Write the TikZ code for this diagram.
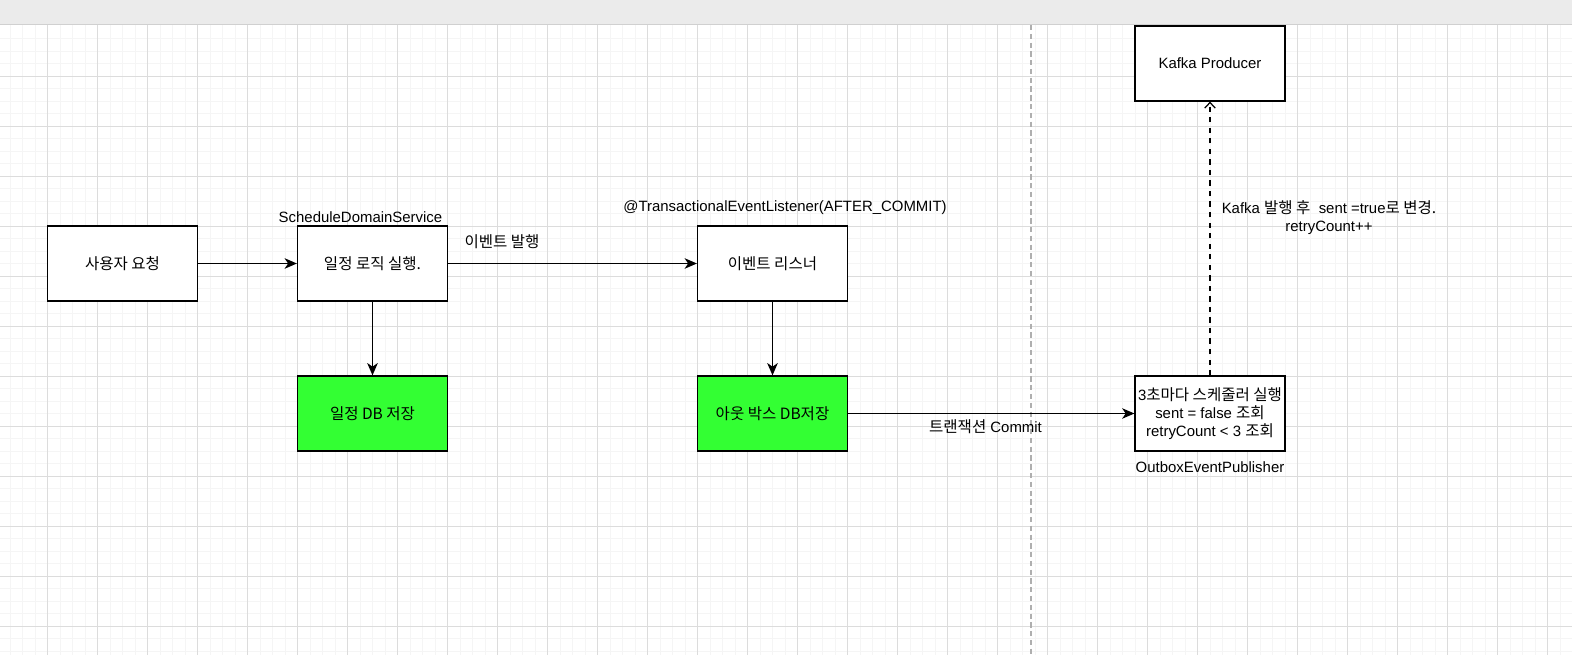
\documentclass[tikz,border=0pt]{standalone}
\usepackage{fontspec}
\setmainfont{Liberation Sans}
\newfontfamily\krfont{Noto Sans CJK KR}[Scale=1.04]
\usetikzlibrary{arrows.meta,positioning}
\definecolor{gridmajor}{RGB}{220,220,220}
\definecolor{gridminor}{RGB}{245,245,245}
\definecolor{barfill}{RGB}{235,235,235}
\definecolor{barline}{RGB}{208,208,208}
\definecolor{dbgreen}{RGB}{51,255,51}
\definecolor{splitgray}{RGB}{175,175,175}
\newcommand{\kr}[1]{{\krfont #1}}

\begin{document}
\begin{tikzpicture}[x=0.02cm, y=-0.02cm,
    box/.style={draw, line width=0.7pt, fill=white, minimum width=3cm, minimum height=1.5cm, inner sep=0pt,
        align=center, font=\fontsize{8.5}{10.2}\selectfont},
    dbbox/.style={box, fill=dbgreen},
    lbl/.style={font=\fontsize{8.5}{10.2}\selectfont, align=center, inner sep=0pt},
    flow/.style={line width=0.7pt, -{Stealth[length=7pt, width=6pt, inset=2pt]}},
    async/.style={line width=0.7pt, dashed, dash pattern=on 3pt off 3pt, -{Straight Barb[length=3.2pt, width=6pt]}}
]
\useasboundingbox (0,0) rectangle (1572,655);
% canvas grid
\foreach \x in {10,22.5,...,1572} \draw[gridminor, line width=0.5pt] (\x,25) -- (\x,655);
\foreach \y in {38.5,51,...,655} \draw[gridminor, line width=0.5pt] (0,\y) -- (1572,\y);
\foreach \x in {47.5,97.5,...,1572} \draw[gridmajor, line width=0.5pt] (\x,25) -- (\x,655);
\foreach \y in {76,126,...,655} \draw[gridmajor, line width=0.5pt] (0,\y) -- (1572,\y);
\fill[barfill] (0,0) rectangle (1572,24);
\draw[barline, line width=1pt] (0,24.5) -- (1572,24.5);
\draw[splitgray, line width=0.7pt, dash pattern=on 3pt off 2pt] (1031,25) -- (1031,655);

% boxes
\node[box] (user) at (122.5,263.5) {\kr{사용자 요청}};
\node[box] (logic) at (372.5,263.5) {\kr{일정 로직 실행.}};
\node[box] (listener) at (772.5,263.5) {\kr{이벤트 리스너}};
\node[dbbox] (scheduledb) at (372.5,413.5) {\kr{일정 DB 저장}};
\node[dbbox] (outboxdb) at (772.5,413.5) {\kr{아웃 박스 DB저장}};
\node[box] (publisher) at (1210,413.5) {3\kr{초마다 스케줄러 실행}\\sent = false \kr{조회}\\retryCount < 3 \kr{조회}};
\node[box] (kafka) at (1210,63.5) {Kafka Producer};

% labels
\node[lbl] (domainlbl) at (360.5,217) {ScheduleDomainService};
\node[lbl] (listenerlbl) at (785,208) {@TransactionalEventListener(AFTER\_COMMIT)};
\node[lbl] (publisherlbl) at (1210,467) {OutboxEventPublisher};

% connectors
\draw[flow] (user) -- (logic);
\draw[flow] (logic) -- (listener);
\node[lbl] (publishlbl) at (502,242) {\kr{이벤트 발행}};
\draw[flow] (logic) -- (scheduledb);
\draw[flow] (listener) -- (outboxdb);
\draw[flow] (outboxdb) -- (publisher);
\node[lbl] (commitlbl) at (985.5,426.5) {\kr{트랜잭션} Commit};
\draw[async] (publisher) -- (kafka);
\node[lbl] (kafkalbl) at (1329,218) {Kafka \kr{발행 후}\ \ sent =true\kr{로 변경.}\\retryCount++};
\end{tikzpicture}
\end{document}
